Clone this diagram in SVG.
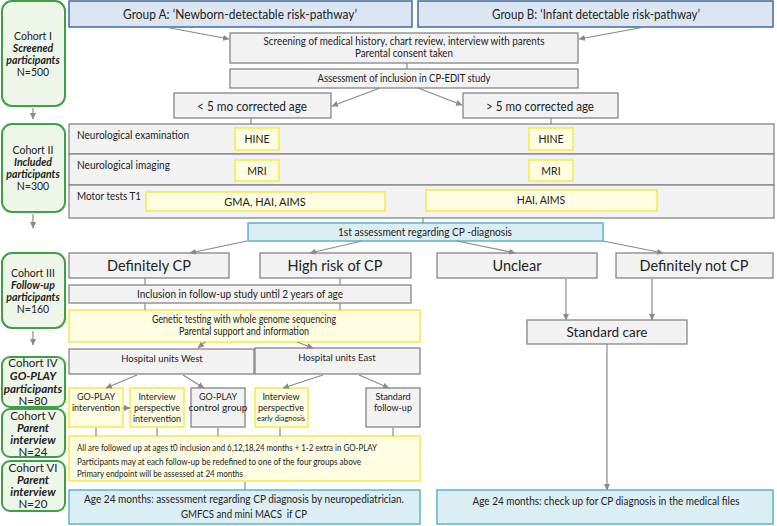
<svg xmlns="http://www.w3.org/2000/svg" width="777" height="526" viewBox="0 0 777 526">
<defs>
<marker id="ah" markerWidth="7" markerHeight="7" refX="6" refY="3.5" orient="auto" markerUnits="userSpaceOnUse">
<path d="M0,0.5 L6.5,3.5 L0,6.5 Z" fill="#8a8a8a"/>
</marker>
<style>
text{font-family:Lato,"Liberation Sans",sans-serif;fill:#222;}
.c{text-anchor:middle;}
.gray{fill:#f2f2f2;stroke:#858585;stroke-width:1.3;}
.yel{fill:#fffde1;stroke:#f7e84a;stroke-width:1.5;}
.blue{fill:#dbeef4;stroke:#5ab4cf;stroke-width:1.5;}
.hdr{fill:#dce6f2;stroke:#456a9a;stroke-width:1.5;}
.coh{fill:#eef5e9;stroke:#3fa043;stroke-width:2;}
.ln{stroke:#8a8a8a;stroke-width:1.2;fill:none;}
.ar{stroke:#8a8a8a;stroke-width:1.2;fill:none;marker-end:url(#ah);}
.bi{font-weight:bold;font-style:italic;}
.ct{font-size:10.5px;}
</style>
</defs>
<rect width="777" height="526" fill="#ffffff"/>

<!-- cohorts -->
<g id="cohort1"><rect class="coh" x="2" y="1" width="63" height="105" rx="10"/>
<text class="c ct" x="33" y="40">Cohort I</text><text class="c ct bi" x="33" y="52">Screened</text><text class="c ct bi" x="33" y="64">participants</text><text class="c ct" x="33" y="76">N=500</text></g>
<g id="cohort2"><rect class="coh" x="2" y="124" width="63" height="88" rx="10"/>
<text class="c ct" x="33" y="154">Cohort II</text><text class="c ct bi" x="33" y="166">Included</text><text class="c ct bi" x="33" y="178">participants</text><text class="c ct" x="33" y="190">N=300</text></g>
<g id="cohort3"><rect class="coh" x="2" y="253" width="63" height="75" rx="10"/>
<text class="c ct" x="33" y="277">Cohort III</text><text class="c ct bi" x="33" y="289">Follow-up</text><text class="c ct bi" x="33" y="301">participants</text><text class="c ct" x="33" y="313">N=160</text></g>
<g id="cohort4"><rect class="coh" x="2" y="357" width="63" height="50" rx="8"/>
<text class="c" style="font-size:11.5px" x="33" y="367">Cohort IV</text><text class="c bi" style="font-size:11.5px" x="33" y="380">GO-PLAY</text><text class="c bi" style="font-size:11.5px" x="33" y="393">participants</text><text class="c" style="font-size:11.5px" x="33" y="405">N=80</text></g>
<g id="cohort5"><rect class="coh" x="2" y="409" width="63" height="48" rx="8"/>
<text class="c" style="font-size:11.5px" x="33" y="420">Cohort V</text><text class="c bi" style="font-size:11.5px" x="33" y="432">Parent</text><text class="c bi" style="font-size:11.5px" x="33" y="444">interview</text><text class="c" style="font-size:11.5px" x="33" y="456">N=24</text></g>
<g id="cohort6"><rect class="coh" x="2" y="461" width="63" height="50" rx="8"/>
<text class="c" style="font-size:11.5px" x="33" y="472">Cohort VI</text><text class="c bi" style="font-size:11.5px" x="33" y="484">Parent</text><text class="c bi" style="font-size:11.5px" x="33" y="496">interview</text><text class="c" style="font-size:11.5px" x="33" y="508">N=20</text></g>

<!-- headers -->
<g id="groupA"><rect class="hdr" x="69" y="1" width="343" height="26"/>
<text class="c" style="font-size:13px" x="240" y="19" textLength="234" lengthAdjust="spacingAndGlyphs">Group A: ‘Newborn-detectable risk-pathway’</text></g>
<g id="groupB"><rect class="hdr" x="418" y="1" width="355" height="26"/>
<text class="c" style="font-size:13px" x="596" y="19" textLength="208" lengthAdjust="spacingAndGlyphs">Group B: ‘Infant detectable risk-pathway’</text></g>

<g id="screening"><rect class="gray" x="230" y="33" width="348" height="30"/>
<text class="c" style="font-size:10.5px" x="404" y="45" textLength="281" lengthAdjust="spacingAndGlyphs">Screening of medical history, chart review, interview with parents</text>
<text class="c" style="font-size:10.5px" x="404" y="57" textLength="98" lengthAdjust="spacingAndGlyphs">Parental consent taken</text></g>
<g id="assessment"><rect class="gray" x="230" y="69" width="348" height="19"/>
<text class="c" style="font-size:10.5px" x="404" y="82" textLength="173" lengthAdjust="spacingAndGlyphs">Assessment of inclusion in CP-EDIT study</text></g>
<g id="lt5"><rect class="gray" x="174" y="93" width="157" height="25"/>
<text class="c" style="font-size:14px" x="252" y="111" textLength="110" lengthAdjust="spacingAndGlyphs">&lt; 5 mo corrected age</text></g>
<g id="gt5"><rect class="gray" x="463" y="93" width="155" height="25"/>
<text class="c" style="font-size:14px" x="540" y="111" textLength="108" lengthAdjust="spacingAndGlyphs">&gt; 5 mo corrected age</text></g>

<!-- panel -->
<g id="panel">
<rect class="gray" x="69" y="124" width="705" height="30"/>
<rect class="gray" x="69" y="154" width="705" height="31"/>
<rect class="gray" x="69" y="185" width="705" height="33"/>
<text style="font-size:11.5px" x="77" y="139" textLength="112" lengthAdjust="spacingAndGlyphs">Neurological examination</text>
<text style="font-size:11.5px" x="77" y="169" textLength="93" lengthAdjust="spacingAndGlyphs">Neurological imaging</text>
<text style="font-size:11.5px" x="77" y="200" textLength="64" lengthAdjust="spacingAndGlyphs">Motor tests T1</text>
</g>
<g id="hineA"><rect class="yel" x="235" y="128" width="44" height="22"/><text class="c" style="font-size:10.5px" x="257" y="143">HINE</text></g>
<g id="hineB"><rect class="yel" x="529" y="128" width="44" height="22"/><text class="c" style="font-size:10.5px" x="551" y="143">HINE</text></g>
<g id="mriA"><rect class="yel" x="235" y="160" width="44" height="21"/><text class="c" style="font-size:10.5px" x="257" y="175">MRI</text></g>
<g id="mriB"><rect class="yel" x="529" y="160" width="44" height="21"/><text class="c" style="font-size:10.5px" x="551" y="175">MRI</text></g>
<g id="motorA"><rect class="yel" x="146" y="192" width="239" height="19"/><text class="c" style="font-size:11px" x="265" y="206">GMA, HAI, AIMS</text></g>
<g id="motorB"><rect class="yel" x="426" y="190" width="231" height="21"/><text class="c" style="font-size:10.5px" x="541" y="204">HAI, AIMS</text></g>

<g id="firstAssess"><rect class="blue" x="248" y="223" width="355" height="18"/>
<text class="c" style="font-size:10.5px" x="425" y="236" textLength="174" lengthAdjust="spacingAndGlyphs">1st assessment regarding CP -diagnosis</text></g>

<g id="defCP"><rect class="gray" x="69" y="253" width="160" height="25"/><text class="c" style="font-size:14.5px" x="149" y="271">Definitely CP</text></g>
<g id="highRisk"><rect class="gray" x="260" y="253" width="151" height="25"/><text class="c" style="font-size:14.5px" x="335" y="271">High risk of CP</text></g>
<g id="unclear"><rect class="gray" x="437" y="253" width="160" height="25"/><text class="c" style="font-size:14.5px" x="517" y="271">Unclear</text></g>
<g id="defNotCP"><rect class="gray" x="616" y="253" width="157" height="25"/><text class="c" style="font-size:14.5px" x="694" y="271">Definitely not CP</text></g>

<g id="inclusion"><rect class="gray" x="69" y="285" width="342" height="18"/>
<text class="c" style="font-size:11px" x="240" y="298" textLength="206" lengthAdjust="spacingAndGlyphs">Inclusion in follow-up study until 2 years of age</text></g>

<g id="genetic"><rect class="yel" x="69" y="310" width="351" height="32"/>
<text class="c" style="font-size:10.5px" x="244" y="323" textLength="184" lengthAdjust="spacingAndGlyphs">Genetic testing with whole genome sequencing</text>
<text class="c" style="font-size:10.5px" x="244" y="335" textLength="130" lengthAdjust="spacingAndGlyphs">Parental support and information</text></g>

<g id="standardCare"><rect class="gray" x="527" y="320" width="160" height="24"/>
<text class="c" style="font-size:13.5px" x="607" y="337">Standard care</text></g>

<g id="west"><rect class="gray" x="69" y="349" width="185" height="25"/><text class="c" style="font-size:9.5px" x="162" y="362">Hospital units West</text></g>
<g id="east"><rect class="gray" x="255" y="348" width="165" height="26"/><text class="c" style="font-size:9.5px" x="337" y="361">Hospital units East</text></g>

<g id="goplay"><rect class="yel" x="69" y="388" width="54" height="39"/>
<text class="c" style="font-size:9px" x="96" y="400">GO-PLAY</text><text class="c" style="font-size:9px" x="96" y="411">intervention</text></g>
<g id="intInt"><rect class="yel" x="130" y="388" width="54" height="39"/>
<text class="c" style="font-size:9px" x="157" y="400">Interview</text><text class="c" style="font-size:9px" x="157" y="411">perspective</text><text class="c" style="font-size:9px" x="157" y="422">intervention</text></g>
<g id="control"><rect class="gray" x="191" y="388" width="54" height="39"/>
<text class="c" style="font-size:9px" x="218" y="400">GO-PLAY</text><text class="c" style="font-size:10px" x="218" y="411">control group</text></g>
<g id="intEarly"><rect class="yel" x="255" y="388" width="53" height="39"/>
<text class="c" style="font-size:9px" x="281" y="400">Interview</text><text class="c" style="font-size:9px" x="281" y="411">perspective</text><text class="c" style="font-size:7.5px" x="281" y="421">early diagnosis</text></g>
<g id="stdFollow"><rect class="gray" x="366" y="388" width="54" height="39"/>
<text class="c" style="font-size:9px" x="393" y="400">Standard</text><text class="c" style="font-size:9px" x="393" y="411">follow-up</text></g>

<g id="followup"><rect class="yel" x="69" y="436" width="351" height="45"/>
<text style="font-size:8.5px" x="77" y="451" textLength="300" lengthAdjust="spacingAndGlyphs">All are followed up at ages t0 inclusion and 6,12,18,24 months + 1-2 extra in GO-PLAY</text>
<text style="font-size:8.5px" x="77" y="465" textLength="284" lengthAdjust="spacingAndGlyphs">Participants may at each follow-up be redefined to one of the four groups above</text>
<text style="font-size:8.5px" x="77" y="477" textLength="166" lengthAdjust="spacingAndGlyphs">Primary endpoint will be assessed at 24 months</text></g>

<g id="age24A"><rect class="blue" x="69" y="490" width="351" height="34"/>
<text class="c" style="font-size:11.5px" x="244" y="503" textLength="320" lengthAdjust="spacingAndGlyphs">Age 24 months: assessment regarding CP diagnosis by neuropediatrician.</text>
<text class="c" style="font-size:11.5px" x="244" y="518" textLength="126" lengthAdjust="spacingAndGlyphs" xml:space="preserve">GMFCS and mini MACS  if CP</text></g>
<g id="age24B"><rect class="blue" x="437" y="490" width="336" height="34"/>
<text class="c" style="font-size:11px" x="606" y="505" textLength="267" lengthAdjust="spacingAndGlyphs">Age 24 months: check up for CP diagnosis in the medical files</text></g>

<!-- connectors -->
<g id="connectors">
<line class="ar" x1="33" y1="108" x2="33" y2="119"/>
<line class="ar" x1="33" y1="214" x2="33" y2="228"/>
<line class="ar" x1="33" y1="331" x2="33" y2="345"/>
<line class="ar" x1="165" y1="27" x2="229" y2="39"/>
<line class="ar" x1="645" y1="27" x2="579" y2="39"/>
<line class="ln" x1="407" y1="63" x2="407" y2="69"/>
<line class="ar" x1="380" y1="88" x2="332" y2="106"/>
<line class="ar" x1="418" y1="88" x2="462" y2="105"/>
<line class="ln" x1="251" y1="118" x2="251" y2="124"/>
<line class="ln" x1="551" y1="118" x2="551" y2="124"/>
<line class="ln" x1="423" y1="218" x2="423" y2="223"/>
<line class="ar" x1="247" y1="241" x2="190" y2="253"/>
<line class="ar" x1="362" y1="241" x2="310" y2="253"/>
<line class="ar" x1="457" y1="241" x2="515" y2="253"/>
<line class="ar" x1="603" y1="241" x2="663" y2="253"/>
<line class="ln" x1="145" y1="278" x2="145" y2="285"/>
<line class="ln" x1="340" y1="278" x2="340" y2="285"/>
<line class="ln" x1="145" y1="303" x2="145" y2="310"/>
<line class="ln" x1="340" y1="303" x2="340" y2="310"/>
<line class="ar" x1="566" y1="279" x2="566" y2="320"/>
<line class="ar" x1="652" y1="279" x2="652" y2="320"/>
<line class="ar" x1="607" y1="344" x2="607" y2="490"/>
<line class="ar" x1="205" y1="342" x2="198" y2="348"/>
<line class="ar" x1="297" y1="342" x2="313" y2="348"/>
<line class="ar" x1="137" y1="375" x2="106" y2="388"/>
<line class="ar" x1="183" y1="375" x2="204" y2="388"/>
<line class="ar" x1="323" y1="375" x2="283" y2="388"/>
<line class="ar" x1="359" y1="375" x2="389" y2="388"/>
<line class="ar" x1="123" y1="408" x2="130" y2="408"/>
<line class="ln" x1="96" y1="428" x2="96" y2="436"/>
<line class="ln" x1="157" y1="428" x2="157" y2="436"/>
<line class="ln" x1="218" y1="428" x2="218" y2="436"/>
<line class="ln" x1="280" y1="428" x2="280" y2="436"/>
<line class="ln" x1="393" y1="428" x2="393" y2="436"/>
<line class="ln" x1="245" y1="482" x2="245" y2="490"/>
</g>
</svg>
